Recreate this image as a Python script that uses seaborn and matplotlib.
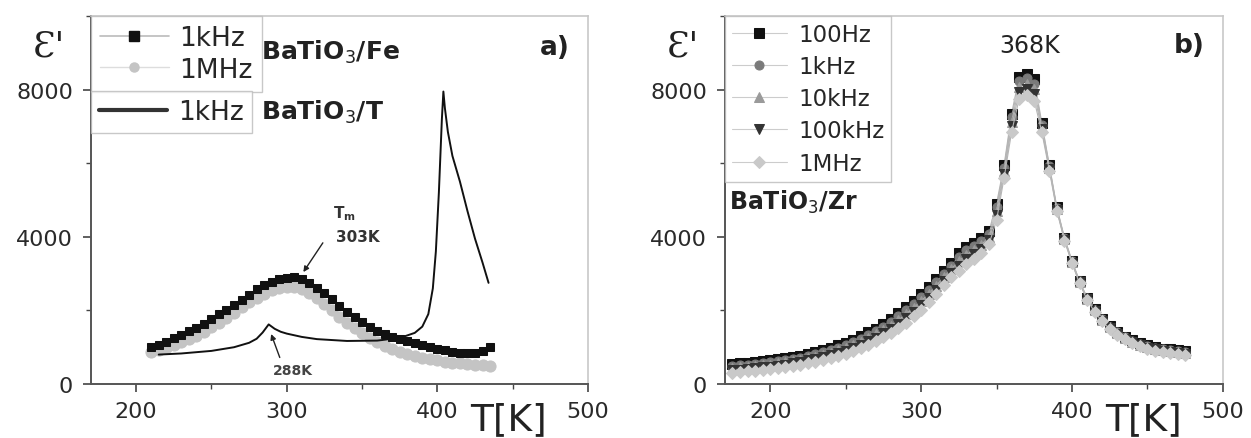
import matplotlib
matplotlib.use("Agg")
import matplotlib.pyplot as plt
import seaborn as sns
from matplotlib.lines import Line2D
from matplotlib.ticker import MultipleLocator

sns.set_theme(style="ticks")
plt.rcParams['font.family'] = ['DejaVu Sans']

# ---- panel a: BaTiO3/Fe and BaTiO3/T ----
t_fe = list(range(210, 440, 5))
fe_1khz = [1000, 1070, 1150, 1240, 1330, 1430, 1530, 1640, 1760, 1890,
           2020, 2150, 2290, 2430, 2570, 2680, 2780, 2850, 2890, 2900,
           2850, 2750, 2620, 2470, 2300, 2120, 1950, 1810, 1680, 1560,
           1450, 1360, 1290, 1230, 1170, 1110, 1060, 1010, 960, 920,
           880, 850, 830, 840, 900, 1000]
fe_1mhz = [880, 930, 990, 1060, 1140, 1220, 1310, 1420, 1540, 1670,
           1800, 1940, 2080, 2220, 2350, 2460, 2550, 2610, 2640, 2650,
           2580, 2470, 2330, 2170, 2000, 1830, 1670, 1520, 1380, 1250,
           1130, 1030, 950, 880, 820, 770, 720, 680, 640, 610,
           580, 560, 540, 520, 505, 495]

t_t = [215, 230, 250, 265, 275, 280, 284, 288, 292, 296, 300, 310, 320, 340,
       360, 375, 385, 390, 394, 397, 399, 401, 403, 404, 405, 407, 410, 415,
       420, 425, 430, 434]
t_1khz = [800, 830, 900, 1000, 1120, 1230, 1400, 1620, 1500, 1420, 1370, 1280,
          1220, 1170, 1180, 1250, 1390, 1560, 1900, 2600, 3600, 5200, 7200,
          7950, 7500, 6850, 6200, 5500, 4700, 3950, 3300, 2750]

# ---- panel b: BaTiO3/Zr ----
t_zr = list(range(175, 480, 5))
zr_100hz = [540, 560, 580, 600, 620, 640, 670, 700, 730, 770,
            810, 860, 920, 980, 1050, 1120, 1200, 1300, 1400, 1500,
            1630, 1760, 1920, 2080, 2260, 2440, 2640, 2850, 3070, 3300,
            3550, 3720, 3840, 3970, 4150, 4900, 5950, 7350, 8350, 8420,
            8280, 7100, 5950, 4800, 3980, 3350, 2800, 2350, 2030, 1770,
            1580, 1420, 1290, 1190, 1110, 1050, 1000, 960, 940, 920, 900]
zr_1khz = [490, 510, 530, 550, 570, 590, 620, 650, 680, 720,
           760, 810, 870, 920, 990, 1060, 1140, 1230, 1330, 1430,
           1560, 1690, 1840, 2000, 2180, 2360, 2560, 2770, 2990, 3220,
           3460, 3630, 3750, 3890, 4080, 4810, 5880, 7250, 8230, 8310,
           8160, 7050, 5920, 4780, 3960, 3340, 2790, 2340, 2020, 1760,
           1560, 1400, 1270, 1170, 1090, 1030, 980, 940, 920, 900, 880]
zr_10khz = [430, 450, 470, 490, 510, 530, 560, 590, 620, 660,
            700, 740, 800, 850, 920, 990, 1060, 1150, 1250, 1350,
            1470, 1590, 1740, 1900, 2070, 2250, 2450, 2670, 2900, 3120,
            3340, 3510, 3640, 3790, 3990, 4700, 5790, 7130, 8080, 8160,
            8020, 6990, 5880, 4760, 3940, 3320, 2770, 2320, 2000, 1740,
            1540, 1380, 1250, 1150, 1070, 1010, 960, 920, 900, 870, 850]
zr_100khz = [370, 390, 410, 430, 450, 470, 500, 530, 560, 600,
             640, 680, 730, 780, 850, 910, 980, 1070, 1160, 1260,
             1380, 1500, 1640, 1790, 1970, 2150, 2350, 2560, 2800, 3020,
             3220, 3390, 3530, 3680, 3910, 4590, 5710, 7000, 7930, 8020,
             7870, 6930, 5850, 4730, 3920, 3300, 2760, 2310, 1980, 1720,
             1520, 1360, 1230, 1130, 1050, 990, 940, 900, 870, 840, 820]
zr_1mhz = [300, 320, 340, 360, 380, 400, 430, 460, 490, 520,
           560, 600, 650, 700, 760, 820, 890, 970, 1060, 1160,
           1270, 1390, 1520, 1670, 1840, 2020, 2220, 2440, 2680, 2900,
           3080, 3250, 3400, 3560, 3800, 4450, 5600, 6850, 7750, 7850,
           7700, 6850, 5800, 4700, 3900, 3280, 2740, 2290, 1960, 1700,
           1500, 1340, 1210, 1110, 1030, 960, 910, 870, 840, 810, 790]

zr_labels = ["100Hz", "1kHz", "10kHz", "100kHz", "1MHz"]
zr_series = [zr_100hz, zr_1khz, zr_10khz, zr_100khz, zr_1mhz]
zr_markers = ["s", "o", "^", "v", "D"]
zr_colors = ["#111111", "#7a7a7a", "#9a9a9a", "#333333", "#c9c9c9"]

fig = plt.figure(figsize=(12.51, 4.39), dpi=100)
ax1 = fig.add_axes([0.0727, 0.123, 0.3973, 0.838])
ax2 = fig.add_axes([0.5795, 0.123, 0.398, 0.838])

for ax in (ax1, ax2):
    ax.set_xlim(170, 500)
    ax.set_ylim(0, 10000)
    ax.xaxis.set_major_locator(MultipleLocator(100))
    ax.xaxis.set_minor_locator(MultipleLocator(50))
    ax.yaxis.set_major_locator(MultipleLocator(4000))
    ax.yaxis.set_minor_locator(MultipleLocator(2000))
    ax.tick_params(which="major", direction="out", length=6, width=1.2,
                   color="#444444", labelsize=16, labelcolor="#2a2a2a")
    ax.tick_params(axis="y", which="major", pad=7)
    ax.tick_params(axis="x", which="major", pad=6)
    ax.tick_params(which="minor", direction="out", length=3.5, width=1,
                   color="#444444")
    for s in ("left", "bottom"):
        ax.spines[s].set_color("#555555")
        ax.spines[s].set_linewidth(1.4)
    for s in ("top", "right"):
        ax.spines[s].set_color("#c8c8c8")
        ax.spines[s].set_linewidth(1.2)
    ax.set_xlabel("")
    ax.set_ylabel("")
    ax.text(-0.085, 0.92, "Ɛ'", transform=ax.transAxes, fontsize=26,
            family="DejaVu Serif", ha="center", va="center", color="#222222")
    ax.text(0.84, -0.095, "T[K]", transform=ax.transAxes, fontsize=27,
            ha="center", va="center", color="#222222")

# panel a
sns.lineplot(x=t_fe, y=fe_1mhz, ax=ax1, color="#d0d0d0", lw=0.8, marker="o",
             markersize=8, markerfacecolor="#c4c4c4", markeredgecolor="#c4c4c4")
sns.lineplot(x=t_fe, y=fe_1khz, ax=ax1, color="#999999", lw=0.8, marker="s",
             markersize=5.5, markerfacecolor="#111111", markeredgecolor="#111111")
sns.lineplot(x=t_t, y=t_1khz, ax=ax1, color="#111111", lw=1.4)

h_fe = [Line2D([], [], color="#bbbbbb", lw=1.2, marker="s", markersize=6.5,
               markerfacecolor="#111111", markeredgecolor="#111111"),
        Line2D([], [], color="#dddddd", lw=1.0, marker="o", markersize=6.5,
               markerfacecolor="#c4c4c4", markeredgecolor="#c4c4c4")]
leg1 = ax1.legend(h_fe, ["1kHz", "1MHz"], loc="upper left",
                  bbox_to_anchor=(0.0, 1.0), fontsize=19, frameon=True,
                  fancybox=False, edgecolor="#bbbbbb", borderaxespad=0,
                  handlelength=2.6, handletextpad=0.4, borderpad=0.35,
                  labelspacing=0.2)
leg1.get_frame().set_linewidth(1.0)
ax1.add_artist(leg1)
h_t = [Line2D([], [], color="#333333", lw=3)]
leg2 = ax1.legend(h_t, ["1kHz"], loc="upper left", bbox_to_anchor=(0.0, 0.796),
                  fontsize=19, frameon=True, fancybox=False, edgecolor="#bbbbbb",
                  borderaxespad=0, handlelength=2.6, handletextpad=0.4,
                  borderpad=0.3)
leg2.get_frame().set_linewidth(1.0)

ax1.text(283, 9050, r"BaTiO$_3$/Fe", fontsize=18, fontweight="bold",
         va="center", ha="left", color="#222222")
ax1.text(283, 7400, r"BaTiO$_3$/T", fontsize=18, fontweight="bold",
         va="center", ha="left", color="#222222")
ax1.text(478, 9150, "a)", fontsize=19, fontweight="bold", ha="center",
         va="center", color="#222222")
ax1.text(338, 4650, r"T$_\mathregular{m}$", fontsize=11, fontweight="bold",
         ha="center", va="center", color="#333333")
ax1.text(347, 4000, "303K", fontsize=11, fontweight="bold", ha="center",
         va="center", color="#333333")
ax1.annotate("", xy=(310, 2980), xytext=(325, 3900),
             arrowprops=dict(arrowstyle="-|>", color="#222222", lw=1,
                             mutation_scale=8))
ax1.text(304, 380, "288K", fontsize=10, fontweight="bold", ha="center",
         va="center", color="#444444")
ax1.annotate("", xy=(289, 1430), xytext=(296, 650),
             arrowprops=dict(arrowstyle="-|>", color="#222222", lw=1,
                             mutation_scale=8))

# panel b
for vals, lab, mk, col in zip(zr_series, zr_labels, zr_markers, zr_colors):
    sns.lineplot(x=t_zr, y=vals, ax=ax2, color="#b5b5b5", lw=0.8, marker=mk,
                 markersize=6.5, markerfacecolor=col, markeredgecolor=col,
                 label=lab)
leg3 = ax2.legend(loc="upper left", bbox_to_anchor=(0.0, 1.0), fontsize=16.5,
                  frameon=True, fancybox=False, edgecolor="#bbbbbb",
                  borderaxespad=0, handlelength=2.4, handletextpad=0.5,
                  borderpad=0.3, labelspacing=0.4)
leg3.get_frame().set_linewidth(1.0)
for ln in leg3.get_lines():
    ln.set_color("#cccccc")

ax2.text(372, 9220, "368K", fontsize=17, ha="center", va="center",
         color="#222222")
ax2.text(478, 9220, "b)", fontsize=19, fontweight="bold", ha="center",
         va="center", color="#222222")
ax2.text(173, 4970, r"BaTiO$_3$/Zr", fontsize=17, fontweight="bold",
         ha="left", va="center", color="#222222")

fig.savefig("out.png", dpi=100)
